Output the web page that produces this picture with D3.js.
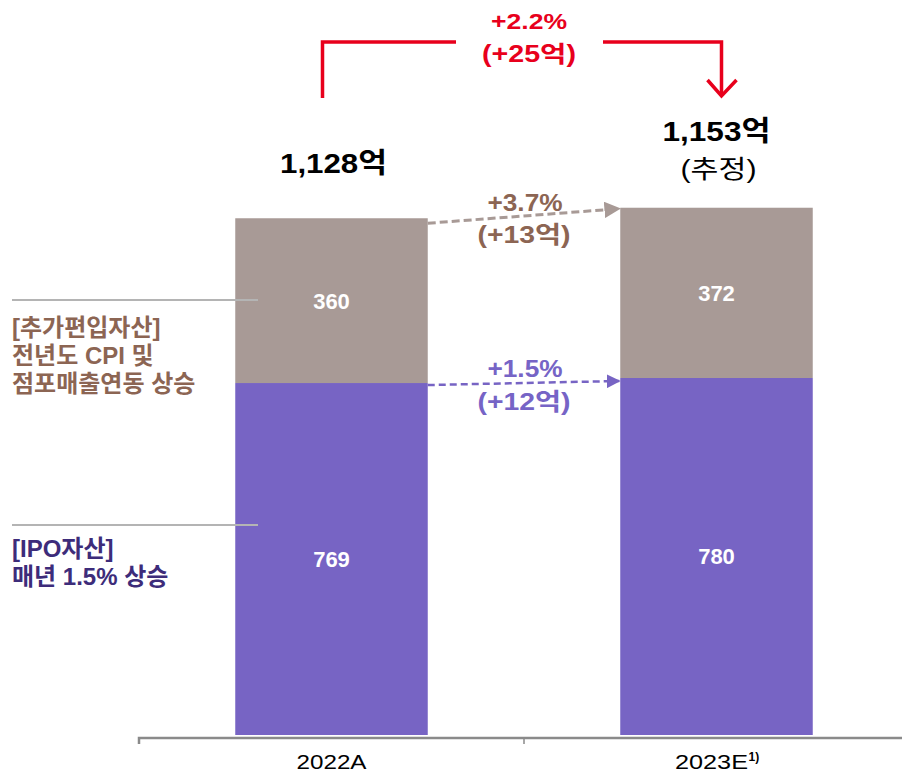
<!DOCTYPE html>
<html><head><meta charset="utf-8">
<script src="https://cdn.jsdelivr.net/npm/d3@7"></script>
<style>body{margin:0;background:#fff}svg{display:block}</style>
</head><body>
<svg id="c" width="902" height="773"></svg>
<script>
const categories = ["2022A", "2023E"];
const ipoValues = [769, 780];
const addValues = [360, 372];
const totalLabels = ["1,128억", "1,153억"];
const ipoChange = ["+1.5%", "(+12억)"];
const addChange = ["+3.7%", "(+13억)"];
const totalChange = ["+2.2%", "(+25억)"];
const addNote = ["[추가편입자산]", "전년도 CPI 및", "점포매출연동 상승"];
const ipoNote = ["[IPO자산]", "매년 1.5% 상승"];

const purple = "#7764C4", gray = "#A89A96", red = "#E8001C";
const brownText = "#8C6553", purpleText = "#7664C6", darkPurple = "#3D2C7A";
const FONT = "'Liberation Sans', Arial, 'Noto Sans CJK KR', sans-serif";

const svg = d3.select("#c");
const x = d3.scaleBand().domain(categories).range([139, 909]).padding(0);
const y = d3.scaleLinear().domain([0, 1200]).range([735, 735 - 1200 * 0.4577]);
const bw = x.bandwidth() * 0.5;
const bx = c => x(c) + (x.bandwidth() - bw) / 2;

function txt(px, py, s, size, opts = {}) {
  const t = svg.append("text").attr("x", px).attr("y", py)
    .attr("text-anchor", opts.anchor || "middle").attr("font-size", size)
    .attr("font-weight", opts.weight || "bold").attr("font-family", FONT)
    .attr("fill", opts.color || "#000").text(s);
  if (opts.len) t.attr("textLength", opts.len).attr("lengthAdjust", "spacingAndGlyphs");
  return t;
}

const defs = svg.append("defs");
function marker(id, color) {
  defs.append("marker").attr("id", id).attr("viewBox", "0 0 10 10")
    .attr("refX", 9).attr("refY", 5).attr("markerWidth", 5.5).attr("markerHeight", 5.5)
    .attr("markerUnits", "strokeWidth").attr("orient", "auto")
    .append("path").attr("d", "M0,0 L10,5 L0,10 z").attr("fill", color);
}
marker("mg", gray); marker("mp", purple);

// bars
categories.forEach((c, i) => {
  svg.append("rect").attr("x", bx(c)).attr("width", bw)
    .attr("y", y(ipoValues[i])).attr("height", y(0) - y(ipoValues[i])).attr("fill", purple);
  svg.append("rect").attr("x", bx(c)).attr("width", bw)
    .attr("y", y(ipoValues[i] + addValues[i])).attr("height", y(ipoValues[i]) - y(ipoValues[i] + addValues[i])).attr("fill", gray);
  const cx = x(c) + x.bandwidth() / 2;
  txt(cx, (y(0) + y(ipoValues[i])) / 2 + 8, ipoValues[i], 22, { color: "#fff" });
  txt(cx, (y(ipoValues[i]) + y(ipoValues[i] + addValues[i])) / 2 + 8, addValues[i], 22, { color: "#fff" });
});

// axis
const axis = svg.append("g").attr("transform", `translate(0,${y(0) + 3})`)
  .call(d3.axisBottom(x).tickSize(0).tickFormat(""));
axis.select(".domain").attr("stroke", "#8a8a8a").attr("stroke-width", 2.5).attr("d", "M139,6V0H902");
categories.forEach((c, i) => {
  if (i > 0) axis.append("line").attr("x1", x(c)).attr("x2", x(c)).attr("y1", 0).attr("y2", 6)
    .attr("stroke", "#8a8a8a").attr("stroke-width", 1.5);
});
const cx0 = x(categories[0]) + x.bandwidth() / 2, cx1 = x(categories[1]) + x.bandwidth() / 2;
txt(cx0, 769, categories[0], 20.5, { weight: "normal", len: 70 });
txt(cx1 - 5, 769, categories[1], 20.5, { weight: "normal", len: 73 });
txt(cx1 + 32, 761, "1)", 12, { weight: "bold", anchor: "start" });

// totals
txt(cx0 + 2, 173, totalLabels[0], 28, { len: 107 });
txt(cx1, 141, totalLabels[1], 28, { len: 108 });
txt(cx1 + 2, 178, "(추정)", 25, { weight: "normal", len: 76 });

// change arrows
const xL = bx(categories[0]) + bw, xR = bx(categories[1]);
const topAdd0 = y(ipoValues[0] + addValues[0]), topAdd1 = y(ipoValues[1] + addValues[1]);
svg.append("line").attr("x1", xL).attr("y1", topAdd0 + 5).attr("x2", xR - 1).attr("y2", topAdd1 + 1)
  .attr("stroke", gray).attr("stroke-width", 3).attr("stroke-dasharray", "8,4").attr("marker-end", "url(#mg)");
svg.append("line").attr("x1", xL).attr("y1", y(ipoValues[0]) + 2).attr("x2", xR - 1).attr("y2", y(ipoValues[1]) + 3)
  .attr("stroke", purple).attr("stroke-width", 2.5).attr("stroke-dasharray", "7,4").attr("marker-end", "url(#mp)");
const midX = (xL + xR) / 2;
[[addChange, brownText, 211, 243], [ipoChange, purpleText, 377, 410]].forEach(([lines, col, y1, y2]) => {
  txt(midX + 1, y1, lines[0], 24, { color: col, len: 75 });
  txt(midX, y2, lines[1], 24, { color: col, len: 93 });
});

// red bracket
const bl = cx0 - 9, br = cx1 + 5;
svg.append("path").attr("d", `M${bl},98V42H456`).attr("fill", "none").attr("stroke", red).attr("stroke-width", 3.5);
svg.append("path").attr("d", `M603,42H${br}V96`).attr("fill", "none").attr("stroke", red).attr("stroke-width", 3.5);
svg.append("path").attr("d", `M${br - 14},80L${br},96L${br + 15},80`).attr("fill", "none").attr("stroke", red).attr("stroke-width", 3.5);
txt(529, 29, totalChange[0], 22, { color: red, len: 76 });
txt(529, 62, totalChange[1], 23, { color: red, len: 94 });

// left notes
svg.append("line").attr("x1", 12).attr("x2", 258).attr("y1", 300).attr("y2", 300).attr("stroke", "#b4b4b4").attr("stroke-width", 2);
svg.append("line").attr("x1", 12).attr("x2", 258).attr("y1", 525).attr("y2", 525).attr("stroke", "#b4b4b4").attr("stroke-width", 2);
addNote.forEach((t, i) => txt(12, 336 + i * 28, t, 24, { anchor: "start", color: brownText }));
ipoNote.forEach((t, i) => txt(12, 557 + i * 28, t, 24, { anchor: "start", color: darkPurple }));
</script>
</body></html>
